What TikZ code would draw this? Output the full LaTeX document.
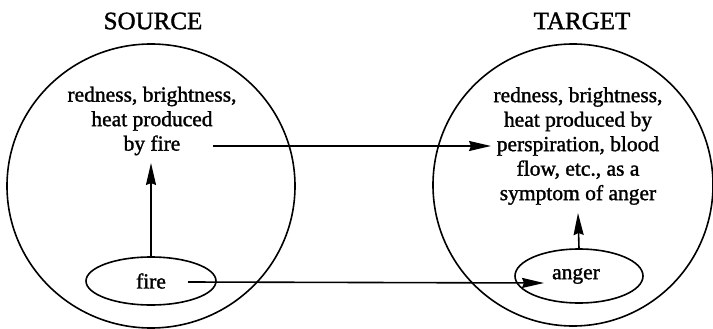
\documentclass[tikz,border=0pt]{standalone}
\usepackage{fontspec}
\setmainfont{Liberation Serif}[BoldFont=Liberation Serif,BoldFeatures={FakeBold=1.4}]
\usetikzlibrary{shapes.geometric,arrows.meta}
\begin{document}
\begin{tikzpicture}[x=1pt,y=-1pt,
  domainbox/.style={draw,line width=1.6pt,ellipse,inner sep=0pt},
  conceptbox/.style={draw,line width=1.6pt,ellipse,inner sep=0pt,font=\fontsize{21.5}{24.5}\selectfont\bfseries},
  blocktext/.style={align=center,inner sep=0pt,font=\fontsize{21.5}{24.5}\selectfont\bfseries},
  titletext/.style={inner sep=0pt,font=\fontsize{25}{28}\selectfont\bfseries},
  linkarrow/.style={line width=1.6pt,-{Stealth[length=22pt,width=10pt,inset=2pt]}}]
\useasboundingbox (0,0) rectangle (713,329);
\node[domainbox,minimum width=288pt,minimum height=284pt] (src) at (151,186) {};
\node[domainbox,minimum width=280pt,minimum height=282pt] (tgt) at (573,185) {};
\node[titletext] (srcTitle) at (153,21) {SOURCE};
\node[titletext] (tgtTitle) at (582,21) {TARGET};
\node[blocktext] (srcT) at (152,121) {redness, brightness,\\heat produced\\by fire};
\node[blocktext] (tgtT) at (578,146) {redness, brightness,\\heat produced by\\perspiration, blood\\flow, etc., as a\\symptom of anger};
\node[conceptbox,minimum width=130pt,minimum height=48pt] (fire) at (151,281) {fire};
\node[conceptbox,minimum width=128pt,minimum height=54pt] (anger) at (579,276) {\hspace*{-6pt}anger};
\coordinate (byfire) at (213,146);
\coordinate (persp) at (491,146);
\coordinate (firefrom) at (188,282);
\coordinate (angerto) at (544,283);
\coordinate (srcTip) at (151,163);
\coordinate (tgtTip) at (578,213);
\draw[linkarrow] (fire.north) -- (srcTip);
\draw[linkarrow] (anger.north) -- (tgtTip);
\draw[linkarrow] (byfire) -- (persp);
\draw[linkarrow] (firefrom) -- (angerto);
\end{tikzpicture}
\end{document}
